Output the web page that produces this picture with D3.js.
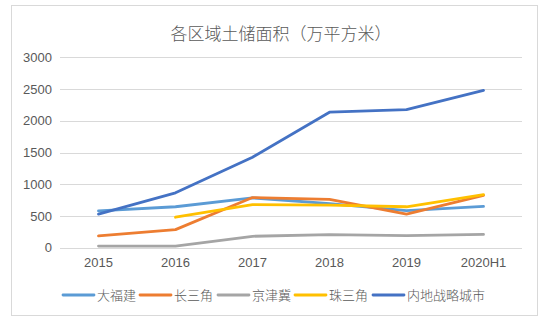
<!DOCTYPE html>
<html><head><meta charset="utf-8">
<script src="https://cdn.jsdelivr.net/npm/d3@7"></script>
<style>body{margin:0;background:#fff}svg{display:block}</style>
</head><body>
<script>
const categories = ["2015","2016","2017","2018","2019","2020H1"];
const seriesNames = ["大福建","长三角","京津冀","珠三角","内地战略城市"];
const dafujian = [580, 645, 785, 695, 585, 650];
const changsanjiao = [185, 285, 790, 760, 530, 825];
const jingjinji = [25, 25, 180, 205, 190, 210];
const zhusanjiao = [null, 480, 680, 672, 645, 835];
const neidi = [530, 865, 1425, 2135, 2175, 2480];
const yTicks = [0, 500, 1000, 1500, 2000, 2500, 3000];
const colors = ["#5B9BD5","#ED7D31","#A5A5A5","#FFC000","#4472C4"];
const title = "各区域土储面积（万平方米）";

const W = 550, H = 324;
const svg = d3.select("body").append("svg").attr("width", W).attr("height", H);
const font = "'Noto Sans CJK SC', 'Liberation Sans', sans-serif";
const numFont = "'Liberation Sans', Arial, sans-serif";

svg.append("rect").attr("x", 11.5).attr("y", 5.5).attr("width", 526).attr("height", 310)
  .attr("fill", "#fff").attr("stroke", "#d9d9d9").attr("stroke-width", 1);

svg.append("text").attr("x", 281).attr("y", 40).attr("text-anchor", "middle")
  .attr("font-family", font).attr("font-weight", 300).attr("font-size", 17)
  .attr("fill", "#595959").text(title);

const x = d3.scaleBand().domain(categories).range([60, 522]);
const y = d3.scaleLinear().domain([0, 3000]).range([247.7, 57.3]);

// gridlines
svg.append("g").selectAll("line").data(yTicks).join("line")
  .attr("x1", 60).attr("x2", 522)
  .attr("y1", d => Math.round(y(d)) + 0.5).attr("y2", d => Math.round(y(d)) + 0.5)
  .attr("stroke", "#d9d9d9").attr("stroke-width", 1);

// y axis labels
const yAxis = d3.axisLeft(y).tickValues(yTicks).tickFormat(d3.format("d")).tickSize(0).tickPadding(0);
const gy = svg.append("g").attr("transform", "translate(52,0)").call(yAxis);
gy.select(".domain").remove();
gy.selectAll("text").attr("font-family", numFont)
  .attr("font-size", 13).attr("fill", "#595959");

// x axis labels
const xAxis = d3.axisBottom(x).tickSize(0).tickPadding(0);
const gx = svg.append("g").attr("transform", "translate(0,258)").call(xAxis);
gx.select(".domain").remove();
gx.selectAll("text").attr("font-family", numFont)
  .attr("font-size", 13).attr("fill", "#595959");

const all = [dafujian, changsanjiao, jingjinji, zhusanjiao, neidi];
const line = d3.line()
  .defined(d => d != null)
  .x((d, i) => x(categories[i]) + x.bandwidth() / 2)
  .y(d => y(d));

all.forEach((s, k) => {
  svg.append("path").datum(s).attr("d", line)
    .attr("fill", "none").attr("stroke", colors[k]).attr("stroke-width", 2.8)
    .attr("stroke-linejoin", "round").attr("stroke-linecap", "round");
});

// legend
const legendX = [63, 140, 218, 295, 373];
const lg = svg.append("g");
seriesNames.forEach((n, k) => {
  lg.append("line").attr("x1", legendX[k]).attr("x2", legendX[k] + 31)
    .attr("y1", 295).attr("y2", 295).attr("stroke", colors[k]).attr("stroke-width", 2.8)
    .attr("stroke-linecap", "round");
  lg.append("text").attr("x", legendX[k] + 34).attr("y", 299.5)
    .attr("font-family", font).attr("font-weight", 300).attr("font-size", 13)
    .attr("fill", "#595959").text(n);
});
</script>
</body></html>
